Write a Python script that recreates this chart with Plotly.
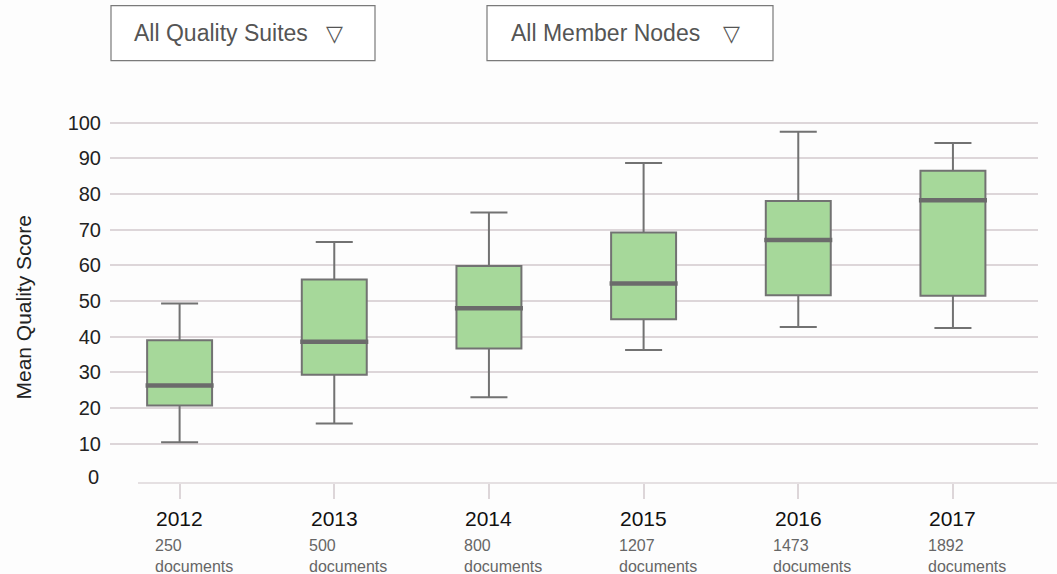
import plotly.graph_objects as go

years = ["2012", "2013", "2014", "2015", "2016", "2017"]
doc_counts = ["250", "500", "800", "1207", "1473", "1892"]
lower_whisker = [10.4, 15.7, 23.0, 36.3, 42.7, 42.4]
q1_vals = [20.7, 29.3, 36.7, 44.9, 51.6, 51.5]
median_vals = [26.3, 38.6, 48.0, 54.9, 67.1, 78.2]
q3_vals = [39.0, 56.0, 59.8, 69.2, 78.0, 86.5]
upper_whisker = [49.3, 66.5, 74.8, 88.7, 97.4, 94.3]
y_ticks = [0, 10, 20, 30, 40, 50, 60, 70, 80, 90, 100]
menu_labels = ["All Quality Suites", "All Member Nodes"]
y_title = "Mean Quality Score"

FONT = "Liberation Sans, Arial, Helvetica, sans-serif"
BOX_W = 0.42
xs = list(range(len(years)))

fig = go.Figure()
fig.add_trace(go.Box(
    x=xs, q1=q1_vals, median=median_vals, q3=q3_vals,
    lowerfence=lower_whisker, upperfence=upper_whisker,
    width=BOX_W, whiskerwidth=0.57,
    fillcolor="#a6d89a", line=dict(color="#727272", width=2),
    boxpoints=False, hoverinfo="skip", showlegend=False,
))

# thicker median lines
mx, my = [], []
for i, m in zip(xs, median_vals):
    mx += [i - BOX_W / 2 - 0.01, i + BOX_W / 2 + 0.01, None]
    my += [m, m, None]
fig.add_trace(go.Scatter(x=mx, y=my, mode="lines",
                         line=dict(color="#6b6b6b", width=4.5),
                         hoverinfo="skip", showlegend=False))

annotations = []
for i, (yr, dc) in enumerate(zip(years, doc_counts)):
    annotations.append(dict(x=i, y=0, xref="x", yref="paper", text=yr,
                            showarrow=False, xanchor="center", yanchor="middle",
                            yshift=-35, font=dict(family=FONT, size=21, color="#111")))
    annotations.append(dict(x=i, y=0, xref="x", yref="paper",
                            text=f"{dc}<br>documents", align="left",
                            showarrow=False, xanchor="left", yanchor="middle",
                            xshift=-27, yshift=-73,
                            font=dict(family=FONT, size=16, color="#666")))

annotations.append(dict(x=-0.0927, y=0.482, xref="paper", yref="paper",
                        text=y_title, textangle=-90, showarrow=False,
                        xanchor="center", yanchor="middle",
                        font=dict(family=FONT, size=21, color="#222")))

# dropdown-like boxes (pixel -> paper conversion)
L, R, T, B = 110, 1038, 119.4, 483.3
W, H = R - L, B - T
def px(x):
    return (x - L) / W
def py(y):
    return (B - y) / H

shapes = []
menus = [(111, 375, 132, 334), (487, 773, 509, 731)]
for (x0, x1, tx, trx), lab in zip(menus, menu_labels):
    shapes.append(dict(type="rect", xref="paper", yref="paper",
                       x0=px(x0), x1=px(x1), y0=py(61), y1=py(6),
                       line=dict(color="#7a7a7a", width=1.2), fillcolor="white"))
    annotations.append(dict(x=px(tx), y=py(33), xref="paper", yref="paper",
                            text=lab, showarrow=False, xanchor="left", yanchor="middle",
                            font=dict(family=FONT, size=23, color="#555")))
    annotations.append(dict(x=px(trx), y=py(34), xref="paper", yref="paper",
                            text="▽", showarrow=False, xanchor="center", yanchor="middle",
                            font=dict(family="DejaVu Sans", size=22, color="#555")))

# bottom axis line
shapes.append(dict(type="line", xref="paper", yref="paper",
                   x0=px(138), x1=px(1057), y0=0, y1=0,
                   line=dict(color="#ddd6d9", width=1.5)))

fig.update_layout(
    width=1057, height=574,
    margin=dict(l=L, r=1057 - R, t=T, b=574 - B, pad=0),
    paper_bgcolor="#fdfdfd", plot_bgcolor="#fdfdfd",
    font=dict(family=FONT),
    xaxis=dict(range=[-0.45, 5.55], tickmode="array", tickvals=xs,
               ticktext=[""] * len(xs), showgrid=False, zeroline=False,
               showline=False, ticks="outside", ticklen=15,
               tickcolor="#ddd6d9", tickwidth=1.5, fixedrange=True),
    yaxis=dict(range=[-1, 101], tickmode="array", tickvals=y_ticks[1:],
               showgrid=True, gridcolor="#ddd6d9", gridwidth=1.5,
               zeroline=False, showline=False, ticks="",
               ticklabelstandoff=8,
               tickfont=dict(family=FONT, size=20, color="#222"),
               fixedrange=True),
    shapes=shapes,
    annotations=annotations,
    showlegend=False,
)
# "0" label without gridline
fig.add_annotation(x=0, y=0, xref="paper", yref="y", text="0", showarrow=False,
                   xanchor="right", yanchor="middle", xshift=-9, yshift=2,
                   font=dict(family=FONT, size=20, color="#222"))

fig.write_html("out.html",
               config={"displayModeBar": False},
               post_script="document.body.style.margin='0';document.body.style.padding='0';document.body.style.overflow='hidden';")
